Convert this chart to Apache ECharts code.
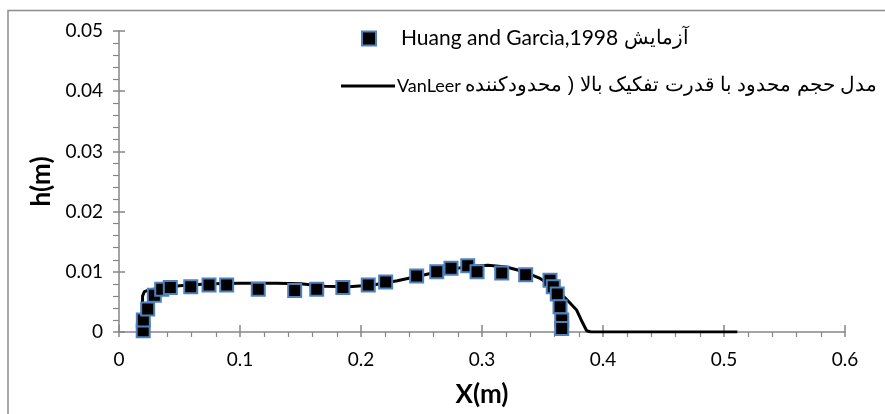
<!DOCTYPE html>
<html>
<head>
<meta charset="utf-8">
<script src="https://cdn.jsdelivr.net/npm/echarts@6/dist/echarts.min.js"></script>
<style>
html,body{margin:0;padding:0;background:#fff;}
#c{width:885px;height:414px;}
</style>
</head>
<body>
<div id="c"></div>
<script>
// Experimental data (Huang and Garcìa, 1998)
var expX = [0.020, 0.0201, 0.0237, 0.0292, 0.0353, 0.0424, 0.0593, 0.0744, 0.0890, 0.1151, 0.1452, 0.1634, 0.1850, 0.2060, 0.2204, 0.2460, 0.2626, 0.2744, 0.2882, 0.2959, 0.3163, 0.3361, 0.3562, 0.3589, 0.3622, 0.3645, 0.3659, 0.3659];
var expY = [0.0002, 0.0020, 0.0038, 0.0061, 0.0071, 0.0074, 0.0075, 0.0078, 0.0078, 0.0071, 0.0069, 0.0071, 0.0074, 0.0078, 0.0083, 0.0093, 0.0100, 0.0106, 0.0110, 0.0100, 0.0098, 0.0095, 0.0086, 0.0075, 0.0063, 0.0042, 0.0020, 0.0006];
// Finite volume model with VanLeer limiter
var modelX = [0.0193, 0.0193, 0.0195, 0.0210, 0.0250, 0.0350, 0.050, 0.075, 0.100, 0.130, 0.150, 0.170, 0.190, 0.210, 0.230, 0.250, 0.270, 0.290, 0.305, 0.320, 0.335, 0.348, 0.360, 0.370, 0.378, 0.382, 0.3865, 0.390, 0.450, 0.511];
var modelY = [0.0, 0.0030, 0.0060, 0.0067, 0.0070, 0.0073, 0.0077, 0.0080, 0.0081, 0.0081, 0.0080, 0.0076, 0.0075, 0.0078, 0.0085, 0.0094, 0.0103, 0.0109, 0.0111, 0.0108, 0.0100, 0.0089, 0.0074, 0.0054, 0.0037, 0.0020, 0.0002, 0.0, 0.0, 0.0];
var legendExpLatin = 'Huang and Garcìa,1998 ';
var legendExpFa = 'آزمایش';
var legendModelLatin = 'VanLeer ';
var legendModelFa = 'مدل حجم محدود با قدرت تفکیک بالا ( محدودکننده';
var xTitle = 'X(m)';
var yTitle = 'h(m)';

var legendExp = legendExpLatin + legendExpFa;
var legendModel = legendModelLatin + legendModelFa;
var expData = expX.map(function (x, i) { return [x, expY[i]]; });
var modelData = modelX.map(function (x, i) { return [x, modelY[i]]; });

var FONT = 'Lato, "Open Sans", sans-serif';
var AX = '#868686';
var rich = {
  a: {fontFamily: FONT, fontSize: 21, color: '#000', lineHeight: 24},
  b: {fontSize: 20, color: '#000', lineHeight: 24},
  c: {fontFamily: FONT, fontSize: 18, color: '#000', lineHeight: 24},
  d: {fontSize: 19.5, color: '#000', lineHeight: 24}
};

var chart = echarts.init(document.getElementById('c'), null, {renderer: 'canvas'});
chart.setOption({
  animation: false,
  backgroundColor: '#fff',
  grid: {left: 119, right: 40, top: 31, bottom: 82, containLabel: false},
  graphic: [{
    type: 'rect',
    shape: {x: 8, y: 10.5, width: 1000, height: 1000},
    style: {fill: 'none', stroke: '#8c8c8c', lineWidth: 1.5},
    silent: true
  }],
  legend: [{
    data: [legendExp],
    left: 356, top: 23,
    orient: 'vertical',
    itemWidth: 14, itemHeight: 14,
    formatter: function () { return '{a|' + legendExpLatin + '}{b|' + legendExpFa + '}'; },
    textStyle: {padding: [0, 0, 0, 20], rich: rich}
  }, {
    data: [{name: legendModel, icon: 'rect'}],
    left: 336, top: 71,
    orient: 'vertical',
    itemWidth: 54, itemHeight: 3,
    formatter: function () { return '{c|' + legendModelLatin + '}{d|' + legendModelFa + '}'; },
    textStyle: {padding: [0, 0, 0, -3], rich: rich}
  }],
  xAxis: [{
    type: 'value', min: 0, max: 0.6, interval: 0.1,
    position: 'bottom',
    name: xTitle, nameLocation: 'middle', nameGap: 50,
    nameTextStyle: {fontFamily: FONT, fontSize: 26, fontWeight: 'bold', color: '#000'},
    axisLine: {show: true, onZero: false, lineStyle: {color: AX, width: 1.5}},
    axisTick: {show: true, inside: false, length: 5, lineStyle: {color: AX, width: 1.5}},
    minorTick: {show: true, splitNumber: 5, length: 5, lineStyle: {color: AX, width: 1.2}},
    axisLabel: {margin: 18, fontFamily: FONT, fontSize: 19, color: '#000'},
    splitLine: {show: false}
  }, {
    type: 'value', min: 0, max: 0.6, interval: 0.1,
    position: 'bottom',
    axisLine: {show: false},
    axisTick: {show: true, inside: true, length: 7, lineStyle: {color: AX, width: 1.5}},
    axisLabel: {show: false},
    splitLine: {show: false}
  }],
  yAxis: [{
    type: 'value', min: 0, max: 0.05, interval: 0.01,
    position: 'left',
    name: yTitle, nameLocation: 'middle', nameGap: 47, nameRotate: 90,
    nameTextStyle: {fontFamily: FONT, fontSize: 26, fontWeight: 'bold', color: '#000'},
    axisLine: {show: true, onZero: false, lineStyle: {color: AX, width: 1.5}},
    axisTick: {show: true, inside: false, length: 6, lineStyle: {color: AX, width: 1.5}},
    minorTick: {show: true, splitNumber: 5, length: 6, lineStyle: {color: AX, width: 1.2}},
    axisLabel: {margin: 16, fontFamily: FONT, fontSize: 19, color: '#000'},
    splitLine: {show: false}
  }, {
    type: 'value', min: 0, max: 0.05, interval: 0.01,
    position: 'left',
    axisLine: {show: false},
    axisTick: {show: true, inside: true, length: 6, lineStyle: {color: AX, width: 1.5}},
    axisLabel: {show: false},
    splitLine: {show: false}
  }],
  series: [{
    name: legendModel,
    type: 'line',
    xAxisIndex: 0, yAxisIndex: 0,
    data: modelData,
    symbol: 'none',
    smooth: false,
    lineStyle: {color: '#000', width: 3},
    itemStyle: {color: '#000'},
    z: 2
  }, {
    name: legendExp,
    type: 'scatter',
    xAxisIndex: 0, yAxisIndex: 0,
    data: expData,
    symbol: 'rect',
    symbolSize: 13,
    itemStyle: {color: '#000', borderColor: '#4F81BD', borderWidth: 2, opacity: 1},
    z: 3
  }]
});
</script>
</body>
</html>
